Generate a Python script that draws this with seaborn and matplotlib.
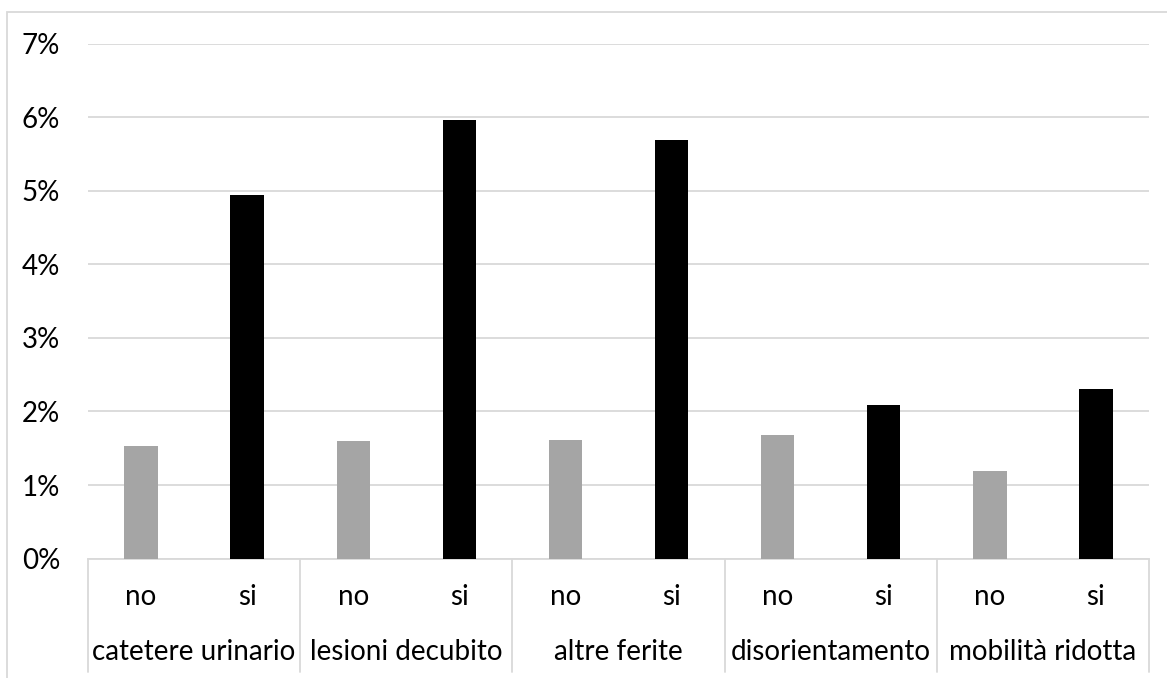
import matplotlib
matplotlib.use("Agg")
import matplotlib.pyplot as plt
import matplotlib.patches as mpatches
import matplotlib.transforms as mtransforms
from matplotlib.ticker import PercentFormatter
import pandas as pd
import seaborn as sns

# Data: share of patients per risk factor, split by presence (no / si)
groups = ["catetere urinario", "lesioni decubito", "altre ferite",
          "disorientamento", "mobilità ridotta"]
answers = ["no", "si"]
values_no = [0.0153, 0.0160, 0.0161, 0.0168, 0.0119]
values_si = [0.0494, 0.0596, 0.0569, 0.0209, 0.0230]
y_ticks = [0.0, 0.01, 0.02, 0.03, 0.04, 0.05, 0.06, 0.07]

rows = []
for g, vn, vs in zip(groups, values_no, values_si):
    rows.append({"slot": f"{g}|no", "group": g, "answer": "no", "value": vn})
    rows.append({"slot": f"{g}|si", "group": g, "answer": "si", "value": vs})
df = pd.DataFrame(rows)

sns.set_theme(style="white")
plt.rcParams["font.family"] = ["Lato", "DejaVu Sans"]

W, H = 1167, 678
fig = plt.figure(figsize=(W / 100, H / 100), dpi=100)
fig.patch.set_facecolor("white")

left, right, top, bottom = 88, 1149, 43.5, 558.6
ax = fig.add_axes([left / W, 1 - bottom / H, (right - left) / W, (bottom - top) / H])

grid_col = "#D9D9D9"
fs = 20
sns.barplot(data=df, x="slot", y="value", hue="answer", order=list(df["slot"]),
            hue_order=answers, palette={"no": "#A5A5A5", "si": "#000000"},
            dodge=False, width=0.314, legend=False, ax=ax, zorder=3,
            linewidth=0, saturation=1)

ax.set_xlim(-0.5, len(df) - 0.5)
ax.set_ylim(0, 0.07)
ax.set_yticks(y_ticks)
ax.yaxis.set_major_formatter(PercentFormatter(1.0, decimals=0))
ax.tick_params(axis="y", length=0, pad=20, labelsize=fs, labelcolor="#000000")
ax.set_xticks([])
ax.set_xlabel("")
ax.set_ylabel("")
ax.yaxis.grid(True, color=grid_col, linewidth=1.3, zorder=0)
ax.set_axisbelow(True)
for s in ["top", "right", "left"]:
    ax.spines[s].set_visible(False)
ax.spines["bottom"].set_color(grid_col)
ax.spines["bottom"].set_linewidth(1.3)

# Two-level category axis: answer labels, group labels and separators
trans = mtransforms.blended_transform_factory(ax.transData, fig.transFigure)
y_ans = 1 - 597 / H
y_grp = 1 - 652 / H
y_sep_end = 1 - 672 / H
for i, row in df.iterrows():
    ax.text(i, y_ans, row["answer"], transform=trans, ha="center", va="center",
            fontsize=fs, color="#000000")
for k, g in enumerate(groups):
    ax.text(2 * k + 0.5, y_grp, g, transform=trans, ha="center", va="center",
            fontsize=fs, color="#000000")
for k in range(len(groups) + 1):
    xs = 2 * k - 0.5
    ax.plot([xs, xs], [1 - bottom / H, y_sep_end], transform=trans,
            color=grid_col, linewidth=1.3, clip_on=False)

# Chart-area frame
frame = mpatches.Rectangle((7 / W, -0.1), 1.2, 1 - 12 / H + 0.1,
                           transform=fig.transFigure, fill=False,
                           edgecolor=grid_col, linewidth=1.3)
fig.patches.append(frame)

fig.savefig("out.png", dpi=100, facecolor="white")
